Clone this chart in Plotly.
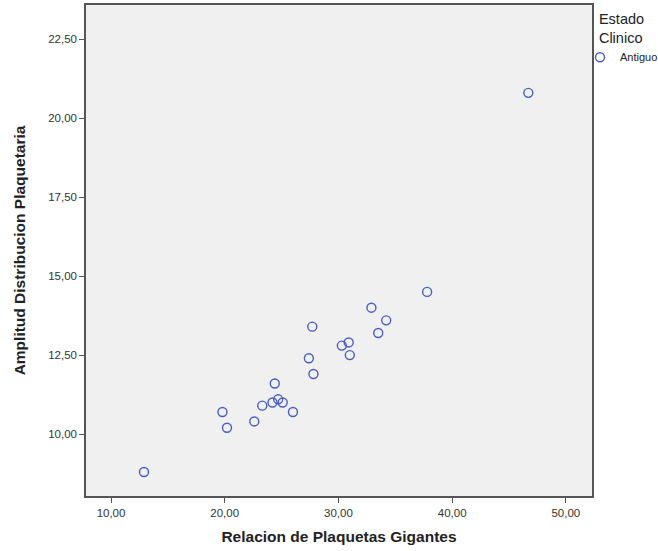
import plotly.graph_objects as go

relacion_plaquetas_gigantes = [19.8, 20.2, 22.6, 23.3, 24.2, 24.7, 25.1, 24.4, 26.0, 27.4,
                               27.8, 27.7, 30.3, 30.9, 31.0, 32.9, 34.2, 33.5, 37.8, 12.9, 46.7]
amplitud_distribucion = [10.7, 10.2, 10.4, 10.9, 11.0, 11.1, 11.0, 11.6, 10.7, 12.4,
                         11.9, 13.4, 12.8, 12.9, 12.5, 14.0, 13.6, 13.2, 14.5, 8.8, 20.8]
x_ticks = [10, 20, 30, 40, 50]
y_ticks = [10, 12.5, 15, 17.5, 20, 22.5]

FONT = "Arial, Liberation Sans, sans-serif"

fig = go.Figure()
fig.add_trace(go.Scatter(
    x=relacion_plaquetas_gigantes, y=amplitud_distribucion, mode="markers",
    name="Antiguo",
    marker=dict(symbol="circle-open", size=9, color="#4a5cc0", line=dict(width=1.4, color="#4a5cc0")),
))

axis_common = dict(showgrid=False, zeroline=False, showline=True, linecolor="#555555", linewidth=1.5,
                   mirror=True, ticks="outside", ticklen=5, tickcolor="#555555",
                   tickfont=dict(family=FONT, size=11.5, color="#333333"),
                   tickformat=".2f", automargin=False)

fig.update_layout(
    width=658, height=551,
    margin=dict(l=86, r=66, t=5, b=55, autoexpand=False),
    paper_bgcolor="white", plot_bgcolor="#f0f0f0",
    separators=",.",
    xaxis=dict(range=[7.8, 52.3], tickvals=x_ticks,
               title=dict(text="<b>Relacion de Plaquetas Gigantes</b>", standoff=14,
                          font=dict(family=FONT, size=15.5, color="#222222")),
               **axis_common),
    yaxis=dict(range=[8.04, 23.58], tickvals=y_ticks,
               title=dict(text="<b>Amplitud Distribucion Plaquetaria</b>", standoff=19,
                          font=dict(family=FONT, size=15.5, color="#222222")),
               **axis_common),
    legend=dict(x=0.9763, xanchor="left", y=1.0, yanchor="top", bgcolor="rgba(0,0,0,0)",
                title=dict(text="Estado<br>Clinico", side="top center",
                           font=dict(family=FONT, size=14.5, color="#222222")),
                font=dict(family=FONT, size=11, color="#222222"),
                itemwidth=30, tracegroupgap=0),
    showlegend=True,
)

fig.write_html("out.html", config={"displayModeBar": False},
               post_script="document.body.style.margin='0';")
